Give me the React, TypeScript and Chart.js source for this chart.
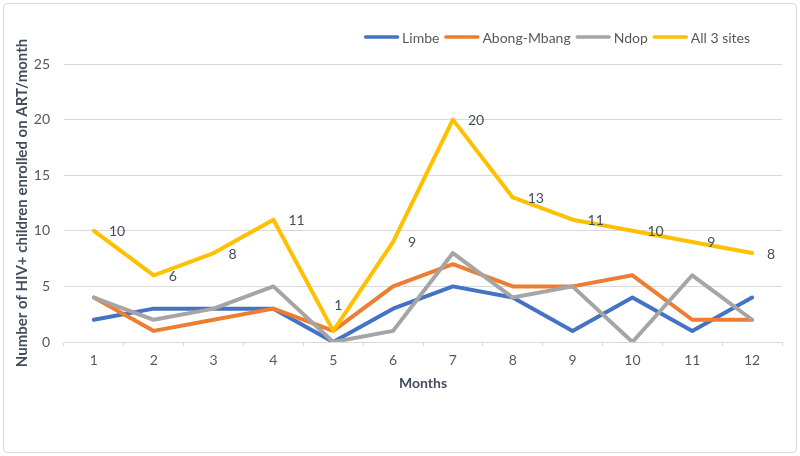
import React, { useEffect, useRef } from "react";
import { Chart, registerables } from "chart.js";

Chart.register(...registerables);

const months = ["1", "2", "3", "4", "5", "6", "7", "8", "9", "10", "11", "12"];
const limbe = [2, 3, 3, 3, 0, 3, 5, 4, 1, 4, 1, 4];
const abongMbang = [4, 1, 2, 3, 1, 5, 7, 5, 5, 6, 2, 2];
const ndop = [4, 2, 3, 5, 0, 1, 8, 4, 5, 0, 6, 2];
const allSites = [10, 6, 8, 11, 1, 9, 20, 13, 11, 10, 9, 8];
const yTicks = [0, 5, 10, 15, 20, 25];
const labelAboveMonths = ["5"];

const FONT = "Lato, 'Liberation Sans', sans-serif";
const TEXT = "#595959";
const DARK = "#424c5c";
const GRID = "#d9d9d9";

const frameAndLegend = {
  id: "frameAndLegend",
  beforeDraw(chart: any) {
    const { ctx, width, height } = chart;
    ctx.save();
    ctx.fillStyle = "#ffffff";
    ctx.fillRect(0, 0, width, height);
    ctx.strokeStyle = GRID;
    ctx.lineWidth = 1;
    ctx.beginPath();
    if (ctx.roundRect) ctx.roundRect(3.5, 3.5, width - 7, height - 7, 4);
    else ctx.rect(3.5, 3.5, width - 7, height - 7);
    ctx.stroke();
    ctx.restore();
  },
  afterDraw(chart: any) {
    const { ctx } = chart;
    const ds = chart.data.datasets;
    ctx.save();
    ctx.font = `14px ${FONT}`;
    ctx.textBaseline = "middle";
    ctx.textAlign = "left";
    const sample = 35;
    const gap = 3;
    const itemGap = 5;
    const widths = ds.map((d: any) => sample + gap + ctx.measureText(d.label).width);
    const total = widths.reduce((a: number, b: number) => a + b, 0) + itemGap * (ds.length - 1);
    const right = chart.chartArea.right - 32;
    const y = 37;
    let x = right - total;
    ds.forEach((d: any, i: number) => {
      ctx.strokeStyle = d.borderColor;
      ctx.lineWidth = 3.5;
      ctx.lineCap = "round";
      ctx.beginPath();
      ctx.moveTo(x + 1.5, y);
      ctx.lineTo(x + sample - 1.5, y);
      ctx.stroke();
      ctx.fillStyle = TEXT;
      ctx.fillText(d.label, x + sample + gap, y + 1);
      x += widths[i] + itemGap;
    });
    ctx.restore();
  },
};

const pointLabels = {
  id: "pointLabels",
  afterDatasetsDraw(chart: any) {
    const { ctx } = chart;
    chart.data.datasets.forEach((d: any, di: number) => {
      if (!d.showValues) return;
      const meta = chart.getDatasetMeta(di);
      ctx.save();
      ctx.font = `14px ${FONT}`;
      ctx.fillStyle = DARK;
      ctx.textBaseline = "middle";
      ctx.textAlign = "left";
      meta.data.forEach((pt: any, i: number) => {
        const v = d.data[i];
        if (labelAboveMonths.includes(chart.data.labels[i])) {
          ctx.fillText(String(v), pt.x + 1, pt.y - 25);
        } else {
          ctx.fillText(String(v), pt.x + 15, pt.y + 1);
        }
      });
      ctx.restore();
    });
  },
};

export default function App() {
  const ref = useRef<HTMLCanvasElement>(null);
  useEffect(() => {
    if (!ref.current) return;
    const common = {
      fill: false,
      tension: 0,
      pointRadius: 0,
      pointHoverRadius: 0,
      borderWidth: 4,
      borderJoinStyle: "round" as const,
      borderCapStyle: "round" as const,
    };
    const chart = new Chart(ref.current, {
      type: "line",
      data: {
        labels: months,
        datasets: [
          { ...common, label: "Limbe", data: limbe, borderColor: "#4472C4", backgroundColor: "#4472C4", order: 4 },
          { ...common, label: "Abong-Mbang", data: abongMbang, borderColor: "#ED7D31", backgroundColor: "#ED7D31", order: 3 },
          { ...common, label: "Ndop", data: ndop, borderColor: "#A5A5A5", backgroundColor: "#A5A5A5", order: 2 },
          { ...common, label: "All 3 sites", data: allSites, borderColor: "#FFC000", backgroundColor: "#FFC000", order: 1, showValues: true } as any,
        ],
      },
      options: {
        animation: false,
        responsive: false,
        devicePixelRatio: 1,
        layout: { padding: { top: 64, right: 18, bottom: 60, left: 0 } },
        plugins: {
          legend: { display: false },
          tooltip: { enabled: false },
        },
        scales: {
          x: {
            type: "category",
            offset: true,
            grid: {
              offset: true,
              drawOnChartArea: false,
              drawTicks: true,
              tickLength: 4,
              color: GRID,
            },
            border: { display: true, color: GRID },
            ticks: { color: TEXT, font: { family: FONT, size: 14 }, padding: 6, maxRotation: 0 },
            title: {
              display: true,
              text: "Months",
              color: DARK,
              font: { family: FONT, size: 14, weight: "bold" },
              padding: { top: 4, bottom: 4 },
            },
            afterFit(scale: any) {
              scale.height = 54;
            },
          },
          y: {
            min: 0,
            max: 25,
            afterBuildTicks(scale: any) {
              scale.ticks = yTicks.map((v) => ({ value: v }));
            },
            grid: { color: GRID, drawTicks: false, lineWidth: 1 },
            border: { display: false },
            ticks: { color: TEXT, font: { family: FONT, size: 14 }, padding: 14 },
            title: {
              display: true,
              text: "Number of HIV+ children enrolled on ART/month",
              color: DARK,
              font: { family: FONT, size: 15, weight: "bold" },
              padding: { top: 13, bottom: 0 },
            },
            afterFit(scale: any) {
              scale.width = 64;
            },
          },
        },
      },
      plugins: [frameAndLegend, pointLabels],
    });
    return () => chart.destroy();
  }, []);
  return (
    <div style={{ position: "absolute", left: 0, top: 0, width: 800, height: 456 }}>
      <canvas ref={ref} width={800} height={456} style={{ display: "block", width: 800, height: 456 }} />
    </div>
  );
}
